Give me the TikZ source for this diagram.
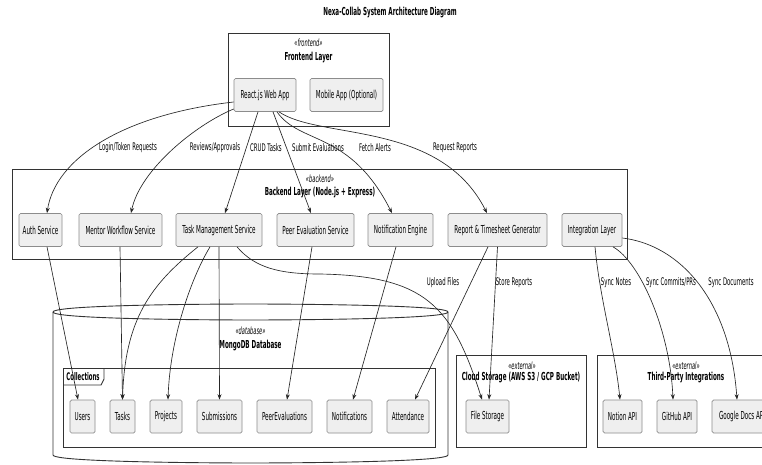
\documentclass[tikz,border=0pt]{standalone}
\usepackage{fontspec}
\setmainfont{DejaVu Sans}[FakeStretch=0.51]
\usetikzlibrary{arrows.meta}
\definecolor{boxfill}{HTML}{EFEFEF}
\definecolor{boxline}{HTML}{8C8C8C}
\definecolor{frameline}{HTML}{333333}
\definecolor{arrowline}{HTML}{262626}
\begin{document}
\begin{tikzpicture}[x=1pt,y=-1pt,
  svc/.style={draw=boxline, fill=boxfill, rounded corners=1.5pt, line width=0.7pt, inner sep=0pt, minimum height=33, font=\fontsize{11}{13}\selectfont},
  frame/.style={draw=frameline, line width=0.9pt, inner sep=0pt},
  flow/.style={draw=arrowline, line width=0.65pt, -{Stealth[length=5.5pt,width=4pt]}},
  lbl/.style={font=\fontsize{10.5}{12}\selectfont, inner sep=0pt},
  stereo/.style={font=\fontsize{10}{12}\selectfont\itshape, inner sep=0pt},
  ttl/.style={font=\fontsize{11}{13}\selectfont\bfseries, inner sep=0pt}]
\useasboundingbox (0,0) rectangle (762,465);
\clip (0,0) rectangle (762,465);
\fill[white] (0,0) rectangle (762,465);

% title
\node[ttl] (title) at (390,13) {Nexa-Collab System Architecture Diagram};

% frontend frame
\node[frame, minimum width=161, minimum height=93] (fe) at (308.5,79.5) {};
\node[stereo] (festereo) at (308.5,43) {«frontend»};
\node[ttl] (fetitle) at (308.5,58) {Frontend Layer};
\node[svc, minimum width=62] (react) at (265,95) {React.js Web App};
\node[svc, minimum width=73] (mobile) at (346.5,95) {Mobile App (Optional)};

% backend frame
\node[frame, minimum width=615, minimum height=90] (be) at (319.5,214) {};
\node[stereo] (bestereo) at (320,179) {«backend»};
\node[ttl] (betitle) at (320,193) {Backend Layer (Node.js + Express)};
\node[svc, minimum width=43] (auth) at (40.5,230) {Auth Service};
\node[svc, minimum width=83] (mentor) at (120.5,230) {Mentor Workflow Service};
\node[svc, minimum width=86] (task) at (219,230) {Task Management Service};
\node[svc, minimum width=77] (peer) at (315.5,230) {Peer Evaluation Service};
\node[svc, minimum width=65] (notif) at (400.5,230) {Notification Engine};
\node[svc, minimum width=99] (report) at (497.5,230) {Report \& Timesheet Generator};
\node[svc, minimum width=60] (integ) at (592,230) {Integration Layer};

% database cylinder
\draw[frameline, line width=0.9pt, fill=white]
  (53,312) .. controls (53,304) and (250.5,304) .. (250.5,304)
  .. controls (250.5,304) and (448,304) .. (448,312)
  -- (448,455) .. controls (448,463) and (250.5,463) .. (250.5,463)
  .. controls (250.5,463) and (53,463) .. (53,455) -- cycle;
\draw[frameline, line width=0.9pt]
  (53,312) .. controls (53,320) and (250.5,320) .. (250.5,320)
  .. controls (250.5,320) and (448,320) .. (448,312);
\node[stereo] (dbstereo) at (250.5,331) {«database»};
\node[ttl] (dbtitle) at (250.5,346) {MongoDB Database};

% collections package
\node[frame, minimum width=372, minimum height=79] (coll) at (249,407.5) {};
\draw[frameline, line width=0.9pt] (63,385) -- (101,385) -- (104,379) -- (104,368);
\node[ttl, font=\fontsize{10.5}{12}\selectfont\bfseries] (colltitle) at (83,376.5) {Collections};
\node[svc, minimum width=25] (users) at (82.5,416.5) {Users};
\node[svc, minimum width=25] (tasks) at (122.5,416.5) {Tasks};
\node[svc, minimum width=32] (projects) at (166,416.5) {Projects};
\node[svc, minimum width=45] (subs) at (219.5,416.5) {Submissions};
\node[svc, minimum width=55] (peerevals) at (284.5,416.5) {PeerEvaluations};
\node[svc, minimum width=45] (notifs) at (349.5,416.5) {Notifications};
\node[svc, minimum width=42] (attend) at (408,416.5) {Attendance};

% cloud storage
\node[frame, minimum width=130, minimum height=92] (cloud) at (521,401) {};
\node[stereo] (cloudstereo) at (522,366) {«external»};
\node[ttl] (cloudtitle) at (521,378) {Cloud Storage (AWS S3 / GCP Bucket)};
\node[svc, minimum width=43] (files) at (487.5,416.5) {File Storage};

% third-party
\node[frame, minimum width=183, minimum height=92] (third) at (688.5,401) {};
\node[stereo] (thirdstereo) at (686,366) {«external»};
\node[ttl] (thirdtitle) at (686,378) {Third-Party Integrations};
\node[svc, minimum width=39] (notion) at (622.5,416.5) {Notion API};
\node[svc, minimum width=40] (github) at (677,416.5) {GitHub API};
\node[svc, minimum width=60] (gdocs) at (742,416.5) {Google Docs API};

% frontend -> backend
\draw[flow] ([yshift=-7pt]react.west) .. controls (120,115) and (55,160) .. ([xshift=6.5pt]auth.north);
\draw[flow] ([yshift=-14pt]react.west) .. controls (195,125) and (140,170) .. ([xshift=10.5pt]mentor.north);
\draw[flow] ([xshift=-7pt]react.south) -- ([xshift=6pt]task.north);
\draw[flow] ([xshift=8pt]react.south) -- ([xshift=-4.5pt]peer.north);
\draw[flow] ([xshift=12pt]react.south) .. controls (300,145) and (350,130) .. ([xshift=-8.5pt]notif.north);
\draw[flow] ([xshift=14pt]react.south) .. controls (320,140) and (440,120) .. ([xshift=-10.5pt]report.north);
\node[lbl] (l1) at (128,148) {Login/Token Requests};
\node[lbl] (l2) at (215,148) {Reviews/Approvals};
\node[lbl] (l3) at (266,148) {CRUD Tasks};
\node[lbl] (l4) at (318,148) {Submit Evaluations};
\node[lbl] (l5) at (375,148) {Fetch Alerts};
\node[lbl] (l6) at (455,148) {Request Reports};

% backend -> database
\draw[flow] ([xshift=6.5pt]auth.south) -- ([xshift=-4.5pt]users.north);
\draw[flow] ([xshift=-0.5pt]mentor.south) -- (tasks.north);
\draw[flow] ([xshift=-21pt]task.south) .. controls (150,285) and (125,320) .. (tasks.north);
\draw[flow] ([xshift=-9pt]task.south) .. controls (190,280) and (170,340) .. ([xshift=2pt]projects.north);
\draw[flow] (task.south) -- (subs.north);
\draw[flow] ([xshift=18pt]task.south) .. controls (255,268) and (280,274) .. (320,274)
  .. controls (425,276) and (452,305) .. ([xshift=-5.5pt]files.north);
\draw[flow] ([xshift=-3.5pt]peer.south) -- ([xshift=2.5pt]peerevals.north);
\draw[flow] ([xshift=-4.5pt]notif.south) -- ([xshift=3.5pt]notifs.north);
\draw[flow] ([xshift=-9.5pt]report.south) -- ([xshift=7pt]attend.north);
\draw[flow] (report.south) -- ([xshift=1.5pt]files.north);
\node[lbl] (l7) at (443,283) {Upload Files};
\node[lbl] (l8) at (514,283) {Store Reports};

% integration -> third party
\draw[flow] ([xshift=3pt]integ.south) .. controls (600,300) and (615,350) .. ([xshift=-2.5pt]notion.north);
\draw[flow] ([xshift=21pt]integ.south) .. controls (640,262) and (670,330) .. ([xshift=-4pt]github.north);
\draw[flow] ([yshift=-8pt]integ.east) .. controls (680,245) and (730,300) .. ([xshift=-5pt]gdocs.north);
\node[lbl] (l9) at (616,283) {Sync Notes};
\node[lbl] (l10) at (671,283) {Sync Commits/PRs};
\node[lbl] (l11) at (731,283) {Sync Documents};
\end{tikzpicture}
\end{document}
